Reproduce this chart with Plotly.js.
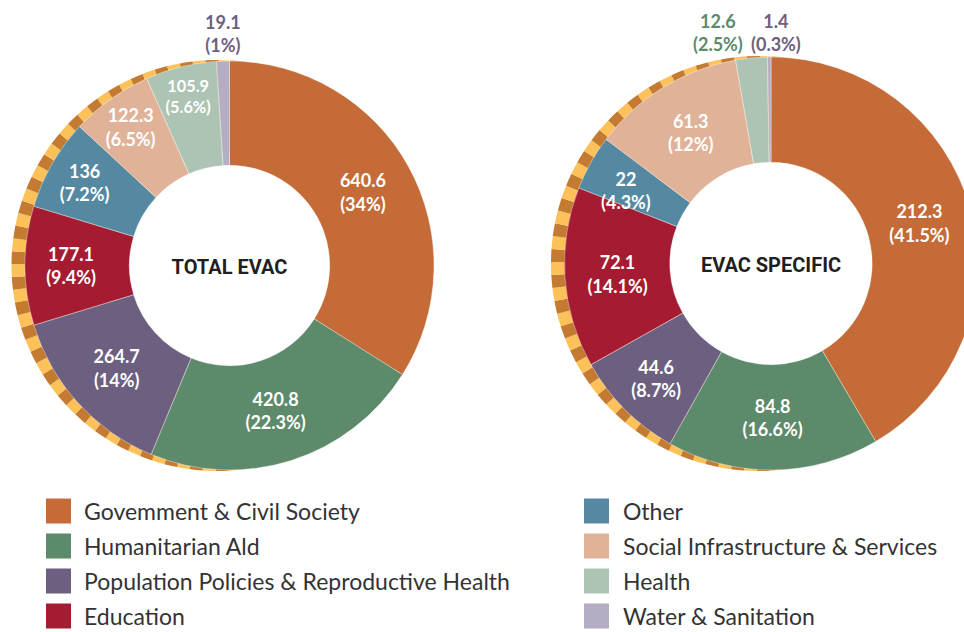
<!DOCTYPE html>
<html>
<head>
<meta charset="utf-8">
<script src="https://cdn.plot.ly/plotly-3.0.1.min.js"></script>
<style>
  html, body { margin: 0; padding: 0; overflow: hidden; background: #fff; }
  #chart { width: 990px; height: 632px; }
</style>
</head>
<body>
<div id="chart"></div>
<script>
// ---- data ----
const categories = [
  'Govemment & Civil Society',
  'Humanitarian Ald',
  'Population Policies & Reproductive Health',
  'Education',
  'Other',
  'Social Infrastructure & Services',
  'Health',
  'Water & Sanitation'
];
const totalEvac    = [640.6, 420.8, 264.7, 177.1, 136, 122.3, 105.9, 19.1];
const evacSpecific = [212.3, 84.8, 44.6, 72.1, 22, 61.3, 12.6, 1.4];
const chartTitles  = ['TOTAL EVAC', 'EVAC SPECIFIC'];
const colors = ['#c46b38', '#5c8a6b', '#6c5f80', '#a51c32', '#5589a2', '#e0b399', '#adc4b4', '#b5aec2'];
// slices whose labels are placed by hand (too narrow for Plotly's inside text)
const placedTotal    = [7];
const placedSpecific = [4, 6, 7];

// ---- layout helpers ----
const W = 990, H = 632;
const px = v => v / W;
const py = v => 1 - v / H;

function pctText(vals, i) {
  const s = vals.reduce((a, b) => a + b, 0);
  return (Math.round(vals[i] / s * 1000) / 10) + '%';
}

// decorative striped rim behind each donut
const STRIPES = 100;
const stripeLabels = [], stripeVals = [], stripeCols = [];
for (let i = 0; i < STRIPES; i++) {
  stripeLabels.push('s' + i);
  stripeVals.push(1);
  stripeCols.push(i % 2 ? '#fcc158' : '#c47a30');
}
function stripeTrace(cx, cy, r) {
  return {
    type: 'pie', labels: stripeLabels, values: stripeVals, sort: false,
    direction: 'clockwise', rotation: 4, hole: 0.56, textinfo: 'none', hoverinfo: 'skip',
    showlegend: false,
    marker: {colors: stripeCols, line: {width: 0}},
    domain: {x: [px(cx - r), px(cx + r)], y: [py(cy + r), py(cy - r)]}
  };
}
function donut(vals, placed, title, cx, cy, r) {
  const pos = vals.map((v, i) => placed.includes(i) ? 'none' : 'inside');
  return {
    type: 'pie', labels: categories, values: vals, sort: false,
    direction: 'clockwise', hole: 0.49,
    textposition: pos,
    texttemplate: '%{value}<br>(%{percent:.1~%})',
    insidetextorientation: 'horizontal',
    textfont: {family: 'Lato, sans-serif', size: 18, color: '#ffffff', weight: 700},
    hoverinfo: 'label+value+percent',
    showlegend: false,
    marker: {colors: colors, line: {color: 'rgba(255,255,255,0.55)', width: 0.7}},
    title: {text: title, position: 'middle center',
            font: {family: 'Roboto, sans-serif', size: 20, color: '#231f20', weight: 700}},
    domain: {x: [px(cx - r), px(cx + r)], y: [py(cy + r), py(cy - r)]}
  };
}

const data = [
  stripeTrace(217, 265.5, 205.5),
  donut(totalEvac, placedTotal, chartTitles[0], 229.5, 265.5, 204.5),
  stripeTrace(758.5, 263.5, 207.5),
  donut(evacSpecific, placedSpecific, chartTitles[1], 771, 263.5, 206.5)
];

const annotations = [];
const shapes = [];

// hand-placed slice labels
const placedLabels = [
  {vals: totalEvac,    i: 7, x: 223,   y: 34,    color: '#6c5f80'},
  {vals: evacSpecific, i: 4, x: 625.5, y: 190.5, color: '#ffffff'},
  {vals: evacSpecific, i: 6, x: 718,   y: 32,    color: '#5c8a6b'},
  {vals: evacSpecific, i: 7, x: 776,   y: 32,    color: '#6c5f80'}
];
placedLabels.forEach(o => {
  annotations.push({
    xref: 'paper', yref: 'paper', x: px(o.x), y: py(o.y),
    xanchor: 'center', yanchor: 'middle', showarrow: false,
    text: o.vals[o.i] + '<br>(' + pctText(o.vals, o.i) + ')',
    font: {family: 'Lato, sans-serif', size: 18, color: o.color, weight: 700}
  });
});

// legend (two columns, column-major)
const legendCols = [{sq: 46, tx: 82}, {sq: 584, tx: 621}];
const rowY = [511, 546, 581, 616];
categories.forEach((c, i) => {
  const col = legendCols[Math.floor(i / 4)];
  const y = rowY[i % 4];
  shapes.push({
    type: 'rect', xref: 'paper', yref: 'paper',
    x0: px(col.sq), x1: px(col.sq + 25), y0: py(y + 12.5), y1: py(y - 12.5),
    fillcolor: colors[i], line: {width: 0}
  });
  annotations.push({
    xref: 'paper', yref: 'paper', x: px(col.tx), y: py(y),
    xanchor: 'left', yanchor: 'middle', showarrow: false, text: c,
    font: {family: 'Lato, sans-serif', size: 23, color: '#333335'}
  });
});

const layout = {
  width: W, height: H,
  margin: {l: 0, r: 0, t: 0, b: 0},
  paper_bgcolor: '#ffffff',
  showlegend: false,
  annotations: annotations,
  shapes: shapes
};

Plotly.newPlot('chart', data, layout, {displayModeBar: false, staticPlot: true});
</script>
</body>
</html>
